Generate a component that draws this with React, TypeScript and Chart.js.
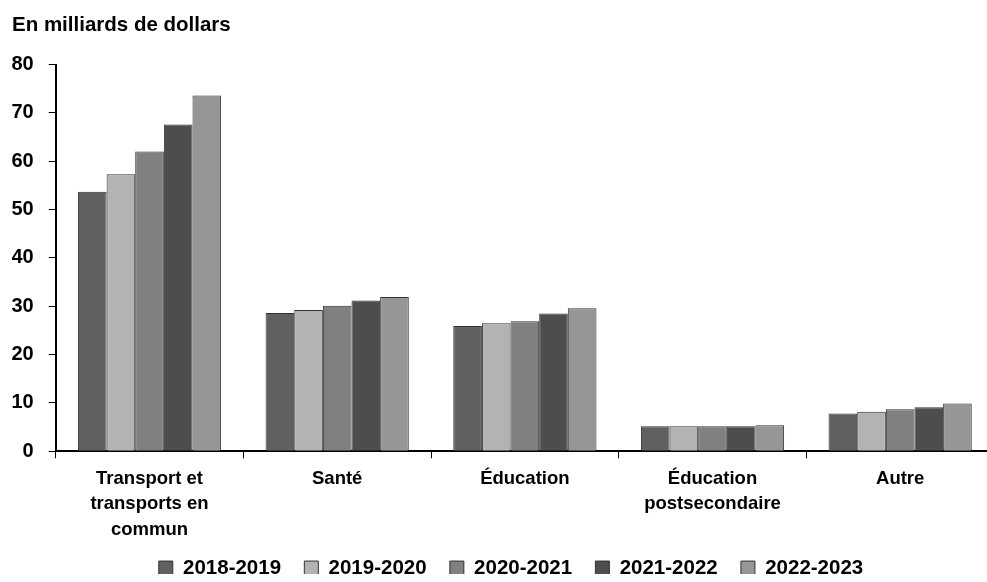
import React, { useEffect, useRef } from "react";
import { Chart, registerables } from "chart.js";

Chart.register(...registerables);

const categories: string[][] = [
  ["Transport et", "transports en", "commun"],
  ["Santé"],
  ["Éducation"],
  ["Éducation", "postsecondaire"],
  ["Autre"],
];
const seriesLabels = ["2018-2019", "2019-2020", "2020-2021", "2021-2022", "2022-2023"];
const values2018 = [53.7, 28.6, 25.9, 5.2, 7.8];
const values2019 = [57.3, 29.2, 26.5, 5.2, 8.2];
const values2020 = [62.0, 30.1, 26.9, 5.2, 8.7];
const values2021 = [67.6, 31.2, 28.5, 5.2, 9.1];
const values2022 = [73.6, 31.9, 29.6, 5.4, 9.9];
const seriesColors = ["#606060", "#b3b3b3", "#808080", "#4d4d4d", "#969696"];
const titleText = "En milliards de dollars";

const FONT = "'Liberation Sans', Arial, Helvetica, sans-serif";

const legendNudge = {
  id: "legendNudge",
  afterLayout(chart: any) {
    const lg = chart.legend;
    if (!lg) return;
    lg.left += 8;
    lg.right += 8;
    lg.top -= 8;
    lg.bottom -= 8;
  },
};

export default function App() {
  const canvasRef = useRef<HTMLCanvasElement | null>(null);

  useEffect(() => {
    document.body.style.margin = "0";
    document.body.style.overflow = "hidden";
    document.documentElement.style.overflow = "hidden";
    const canvas = canvasRef.current;
    if (!canvas) return;
    const allValues = [values2018, values2019, values2020, values2021, values2022];
    const chart = new Chart(canvas, {
      type: "bar",
      data: {
        labels: categories,
        datasets: seriesLabels.map((label, i) => ({
          label,
          data: allValues[i],
          backgroundColor: seriesColors[i],
          borderColor: "#333333",
          borderWidth: 1,
          categoryPercentage: 0.763,
          barPercentage: 1.0,
        })),
      },
      plugins: [legendNudge],
      options: {
        responsive: false,
        animation: false,
        devicePixelRatio: 1,
        layout: { padding: { left: 12, right: 0, top: 0, bottom: 0 } },
        plugins: {
          title: {
            display: true,
            text: titleText,
            align: "start",
            color: "#000",
            font: { family: FONT, size: 20.5, weight: "bold", lineHeight: 1.2 },
            padding: { top: 13, bottom: 26.9 },
          },
          legend: {
            position: "bottom",
            maxHeight: 39.45,
            labels: {
              color: "#000",
              boxWidth: 14,
              boxHeight: 14,
              padding: 23.25,
              font: { family: FONT, size: 20.5, weight: "bold" },
            },
          },
          tooltip: { enabled: false },
        },
        scales: {
          x: {
            grid: { display: true, drawOnChartArea: false, offset: true, tickLength: 7, color: "#000", lineWidth: 1 },
            border: { display: true, color: "#000", width: 2 },
            ticks: {
              color: "#000",
              padding: 7.75,
              maxRotation: 0,
              autoSkip: false,
              font: { family: FONT, size: 18.5, weight: "bold", lineHeight: "25.5px" },
            },
            afterFit: (scale: any) => {
              scale.height = 91.25;
            },
          },
          y: {
            min: 0,
            max: 80,
            grid: { display: true, drawOnChartArea: false, tickLength: 7, color: "#000", lineWidth: 1 },
            border: { display: true, color: "#000", width: 2 },
            ticks: { stepSize: 10, color: "#000", padding: 15, font: { family: FONT, size: 20, weight: "bold" } },
            afterFit: (scale: any) => {
              scale.width = 43.7;
            },
          },
        },
      },
    });
    return () => chart.destroy();
  }, []);

  return (
    <div style={{ width: 994, height: 582 }}>
      <canvas ref={canvasRef} width={994} height={582} style={{ display: "block" }} />
    </div>
  );
}
